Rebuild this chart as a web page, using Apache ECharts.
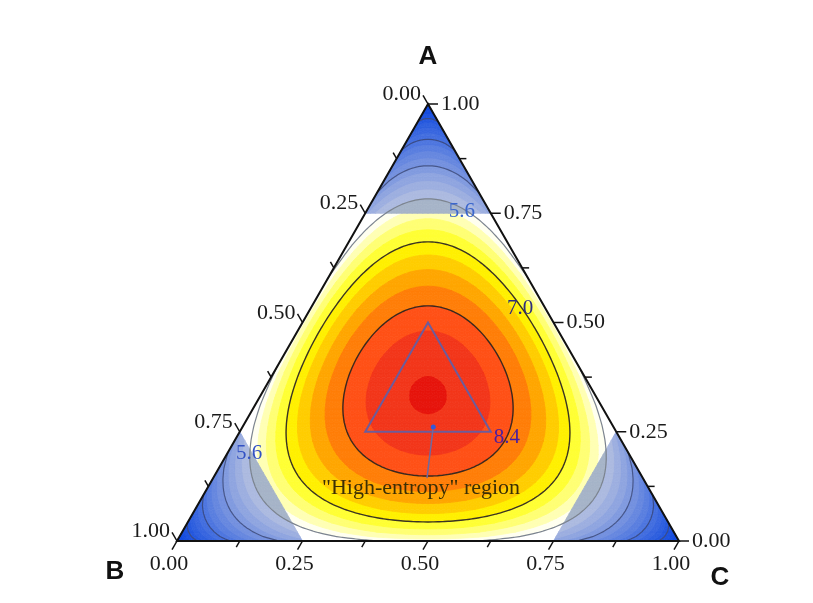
<!DOCTYPE html>
<html>
<head>
<meta charset="utf-8">
<script src="https://cdn.jsdelivr.net/npm/echarts@6.0.0/dist/echarts.min.js"></script>
<style>html,body{margin:0;padding:0;background:#fff}#chart{width:813px;height:603px}</style>
</head>
<body>
<div id="chart"></div>
<script>
// ---------------- data ----------------
const componentNames = ['A', 'B', 'C'];
const tickValues = [0, 0.25, 0.5, 0.75, 1];
const tickLabels = ['0.00', '0.25', '0.50', '0.75', '1.00'];
const minorTickValues = [0.125, 0.375, 0.625, 0.875];
// ideal configurational entropy field  dS = -R * sum(x ln x)
const gasConstant = 8.314;
const cornerLimit = 0.75;
// filled contour levels of the central (yellow-red) region
const fillLevels = [5.6, 5.95, 6.3, 6.65, 7.0, 7.35, 7.7, 8.05, 8.4, 8.75, 9.1];
const fillColors = ['#ffffff', '#fffff0', '#ffffb4', '#ffff74', '#ffff34', '#fff000', '#ffcd00', '#ffa600', '#ff7e08', '#ff5016', '#f2361a', '#e6140c'];
// filled contour levels of the three corner (blue) regions
const cornerLevels = [0.35, 0.7, 1.05, 1.4, 1.75, 2.1, 2.45, 2.8, 3.15, 3.5, 3.85, 4.2, 4.55, 4.9, 5.25, 5.6];
const cornerColors = ['#0c46de', '#1049de', '#164dde', '#1d52de', '#2558de', '#2e5fde', '#3866df', '#436edf', '#4e76df', '#5a7fdf', '#6788df', '#7491df', '#819bdf', '#8fa5e0', '#9dafe0', '#acbae0', '#a6b4c8'];
// contour lines
const contourLevels = [1.4, 2.8, 4.2, 5.6, 7.0, 8.4];
const contourColors = ['#3a4c88', '#3a4c88', '#46568a', '#7c8490', '#3a3424', '#3a2a1e'];
// contour labels (text, A, C fraction)
const contourLabelTexts = ['5.6', '5.6', '7.0', '8.4'];
const contourLabelA = [0.753, 0.201, 0.533, 0.238];
const contourLabelC = [0.191, 0.043, 0.417, 0.538];
const contourLabelColors = ['#3a66cc', '#3352c4', '#2c2c80', '#4a1ea0'];
// "high-entropy" region (A, B, C of its corners)
const regionCornerA = [0.5, 0.25, 0.25];
const regionCornerB = [0.25, 0.5, 0.25];
const regionCornerC = [0.25, 0.25, 0.5];
const regionPoint = [0.261, 0.359, 0.380];
const regionLabelAnchor = [0.144, 0.430, 0.426];
const regionLabelText = '"High-entropy" region';

// ---------------- geometry helpers ----------------
const SQ = Math.sqrt(3) / 2;
function toXY(a, b, c) { return [c + a / 2, a * SQ]; }
function mixingEntropy(a, b, c) {
  let s = 0;
  [a, b, c].forEach(x => { if (x > 1e-12) s -= x * Math.log(x); });
  return gasConstant * s;
}

// triangular mesh
const N = 96;
const lim = Math.round(N * cornerLimit);
const vid = (i, j) => i * (N + 1) + j;
const V = [];
for (let i = 0; i <= N; i++) {
  for (let j = 0; j <= N - i; j++) {
    const a = i / N, c = j / N, b = Math.max(0, 1 - a - c);
    const p = toXY(a, b, c);
    V[vid(i, j)] = { x: p[0], y: p[1], s: mixingEntropy(a, b, c), i: i, j: j, k: N - i - j };
  }
}
const tris = [];
for (let i = 0; i < N; i++) {
  for (let j = 0; i + j <= N - 1; j++) {
    tris.push([vid(i, j), vid(i, j + 1), vid(i + 1, j)]);
    if (i + j <= N - 2) tris.push([vid(i + 1, j), vid(i, j + 1), vid(i + 1, j + 1)]);
  }
}

function clipPoly(poly, level, keepAbove) {
  const out = [];
  const n = poly.length;
  for (let m = 0; m < n; m++) {
    const P = poly[m], Q = poly[(m + 1) % n];
    const pin = keepAbove ? P[2] >= level : P[2] < level;
    const qin = keepAbove ? Q[2] >= level : Q[2] < level;
    if (pin) out.push(P);
    if (pin !== qin) {
      const t = (level - P[2]) / (Q[2] - P[2]);
      out.push([P[0] + t * (Q[0] - P[0]), P[1] + t * (Q[1] - P[1]), level]);
    }
  }
  return out;
}
function bandIndex(levels, s) { let k = 0; while (k < levels.length && s >= levels[k]) k++; return k; }

const bandSets = [
  { levels: fillLevels, colors: fillColors, polys: fillColors.map(() => []) },
  { levels: cornerLevels, colors: cornerColors, polys: cornerColors.map(() => []) }
];
tris.forEach(tri => {
  const vs = tri.map(id => V[id]);
  const isCorner = Math.min(vs[0].i, vs[1].i, vs[2].i) >= lim ||
                   Math.min(vs[0].j, vs[1].j, vs[2].j) >= lim ||
                   Math.min(vs[0].k, vs[1].k, vs[2].k) >= lim;
  const set = bandSets[isCorner ? 1 : 0];
  const bi = vs.map(v => bandIndex(set.levels, v.s));
  const lo = Math.min(...bi), hi = Math.max(...bi);
  const poly = vs.map(v => [v.x, v.y, v.s]);
  if (lo === hi) { set.polys[lo].push(poly); return; }
  for (let b = lo; b <= hi; b++) {
    let p = poly;
    if (b > 0) p = clipPoly(p, set.levels[b - 1], true);
    if (p.length >= 3 && b < set.levels.length) p = clipPoly(p, set.levels[b], false);
    if (p.length >= 3) set.polys[b].push(p);
  }
});
const fieldItems = [];
bandSets.forEach((set, si) => set.polys.forEach((pl, bi) => { if (pl.length) fieldItems.push([0.5, 0.3, si, bi]); }));

// contour lines (marching triangles, chained into polylines)
const contourLines = contourLevels.map(L => {
  const pts = new Map();
  const segs = [];
  const edgePoint = (p, q) => {
    const lo = Math.min(p, q), hi = Math.max(p, q);
    const key = lo * 100000 + hi;
    if (!pts.has(key)) {
      const P = V[lo], Q = V[hi];
      const t = (L - P.s) / (Q.s - P.s);
      pts.set(key, [P.x + t * (Q.x - P.x), P.y + t * (Q.y - P.y)]);
    }
    return key;
  };
  tris.forEach(tri => {
    const ks = [];
    for (let e = 0; e < 3; e++) {
      const p = tri[e], q = tri[(e + 1) % 3];
      if ((V[p].s >= L) !== (V[q].s >= L)) ks.push(edgePoint(p, q));
    }
    if (ks.length === 2) segs.push(ks);
  });
  const adj = new Map();
  segs.forEach((s, idx) => s.forEach(k => { if (!adj.has(k)) adj.set(k, []); adj.get(k).push(idx); }));
  const used = new Array(segs.length).fill(false);
  const lines = [];
  for (let s0 = 0; s0 < segs.length; s0++) {
    if (used[s0]) continue;
    used[s0] = true;
    let line = [segs[s0][0], segs[s0][1]];
    for (let dir = 0; dir < 2; dir++) {
      while (true) {
        const end = line[line.length - 1];
        const cand = (adj.get(end) || []).find(x => !used[x]);
        if (cand === undefined) break;
        used[cand] = true;
        const sg = segs[cand];
        line.push(sg[0] === end ? sg[1] : sg[0]);
      }
      line.reverse();
    }
    lines.push(line.map(k => pts.get(k)));
  }
  return lines;
});
const contourItems = contourLevels.map((L, li) => [0.5, 0.3, li]);

// axes items: [x, y, axis, value, major, labelIndex]
const axisItems = [];
function axisPoint(axis, v) {
  if (axis === 0) return toXY(v, 0, 1 - v);      // A : right side
  if (axis === 1) return toXY(1 - v, v, 0);      // B : left side
  return toXY(0, 1 - v, v);                      // C : bottom
}
[0, 1, 2].forEach(ax => {
  tickValues.forEach((v, ti) => { const p = axisPoint(ax, v); axisItems.push([p[0], p[1], ax, v, 1, ti]); });
  minorTickValues.forEach(v => { const p = axisPoint(ax, v); axisItems.push([p[0], p[1], ax, v, 0, -1]); });
});

const LABEL_FONT = '22px "Liberation Serif", "Times New Roman", serif';

const chart = echarts.init(document.getElementById('chart'));
const option = {
  animation: false,
  backgroundColor: '#ffffff',
  grid: { left: 177, top: 104, width: 502, height: 437, show: false },
  xAxis: { type: 'value', min: 0, max: 1, show: false },
  yAxis: { type: 'value', min: 0, max: SQ, show: false },
  series: [
    {
      type: 'custom', name: 'field', silent: true, clip: false, z: 1,
      data: fieldItems,
      renderItem: function (params, api) {
        const set = bandSets[api.value(2)];
        const bi = api.value(3);
        const col = set.colors[bi];
        return {
          type: 'group',
          children: set.polys[bi].map(p => ({
            type: 'polygon',
            shape: { points: p.map(pt => api.coord([pt[0], pt[1]])) },
            style: { fill: col, stroke: col, lineWidth: 0.8 }
          }))
        };
      }
    },
    {
      type: 'custom', name: 'contours', silent: true, clip: false, z: 2,
      data: contourItems,
      renderItem: function (params, api) {
        const li = api.value(2);
        return {
          type: 'group',
          children: contourLines[li].map(line => ({
            type: 'polyline',
            shape: { points: line.map(pt => api.coord(pt)) },
            style: { stroke: contourColors[li], lineWidth: li >= 4 ? 1.4 : 1.2, fill: null, lineJoin: 'round' }
          }))
        };
      }
    },
    {
      type: 'custom', name: 'frame', silent: true, clip: false, z: 3,
      data: [[0.5, 0.3]],
      renderItem: function (params, api) {
        const A = api.coord(toXY(1, 0, 0)), B = api.coord(toXY(0, 1, 0)), C = api.coord(toXY(0, 0, 1));
        const r = [0, 1, 2].map(m => api.coord(toXY(regionCornerA[m], regionCornerB[m], regionCornerC[m])));
        const dot = api.coord(toXY(regionPoint[0], regionPoint[1], regionPoint[2]));
        const anc = api.coord(toXY(regionLabelAnchor[0], regionLabelAnchor[1], regionLabelAnchor[2]));
        return {
          type: 'group',
          children: [
            { type: 'polygon', shape: { points: r }, style: { fill: null, stroke: '#6c5c9c', lineWidth: 2 } },
            { type: 'line', shape: { x1: dot[0], y1: dot[1], x2: anc[0], y2: anc[1] }, style: { stroke: '#6e6aa0', lineWidth: 1.5 } },
            { type: 'circle', shape: { cx: dot[0], cy: dot[1], r: 2.5 }, style: { fill: '#3458d8' } },
            { type: 'text', x: anc[0] - 6, y: anc[1] + 10, style: { text: regionLabelText, font: LABEL_FONT, fill: '#3b2f05', align: 'center', textAlign: 'center', verticalAlign: 'middle', textVerticalAlign: 'middle' } },
            { type: 'polygon', shape: { points: [A, B, C] }, style: { fill: null, stroke: '#111111', lineWidth: 2, lineJoin: 'miter' } }
          ].concat(contourLabelTexts.map((t, m) => {
            const a = contourLabelA[m], c = contourLabelC[m];
            const p = api.coord(toXY(a, 1 - a - c, c));
            return { type: 'text', x: p[0], y: p[1], style: { text: t, font: '21px "Liberation Serif", serif', fill: contourLabelColors[m], align: 'center', textAlign: 'center', verticalAlign: 'middle', textVerticalAlign: 'middle' } };
          }))
        };
      }
    },
    {
      type: 'custom', name: 'axes', silent: true, clip: false, z: 4,
      data: axisItems,
      renderItem: function (params, api) {
        const ax = api.value(2), major = api.value(4), li = api.value(5);
        const p = api.coord([api.value(0), api.value(1)]);
        const A = api.coord(toXY(1, 0, 0)), B = api.coord(toXY(0, 1, 0)), C = api.coord(toXY(0, 0, 1));
        let d;
        if (ax === 0) d = [1, 0];
        else if (ax === 1) { const dx = A[0] - C[0], dy = A[1] - C[1], n = Math.hypot(dx, dy); d = [dx / n, dy / n]; }
        else { const dx = B[0] - A[0], dy = B[1] - A[1], n = Math.hypot(dx, dy); d = [dx / n, dy / n]; }
        const len = major ? 10 : 7;
        const e = [p[0] + d[0] * len, p[1] + d[1] * len];
        const children = [{ type: 'line', shape: { x1: p[0], y1: p[1], x2: e[0], y2: e[1] }, style: { stroke: '#111111', lineWidth: 1.5 } }];
        if (major) {
          let tx, ty, al;
          if (ax === 0) { tx = e[0] + 3; ty = e[1]; al = 'left'; }
          else if (ax === 1) { tx = e[0] - 2; ty = e[1] - 1; al = 'right'; }
          else { tx = e[0] - 3; ty = e[1] + 15; al = 'center'; }
          children.push({ type: 'text', x: tx, y: ty, style: { text: tickLabels[li], font: LABEL_FONT, fill: '#1a1a1a', align: al, textAlign: al, verticalAlign: 'middle', textVerticalAlign: 'middle' } });
          if (api.value(3) === 1) {
            // component name at the vertex of this axis
            let nx, ny;
            if (ax === 0) { nx = A[0]; ny = A[1] - 47; }
            else if (ax === 1) { nx = B[0] - 62; ny = B[1] + 31; }
            else { nx = C[0] + 41; ny = C[1] + 37; }
            children.push({ type: 'text', x: nx, y: ny, style: { text: componentNames[ax], font: 'bold 26px "Liberation Sans", Arial, sans-serif', fill: '#111111', align: 'center', textAlign: 'center', verticalAlign: 'middle', textVerticalAlign: 'middle' } });
          }
        }
        return { type: 'group', children: children };
      }
    }
  ]
};
chart.setOption(option);
</script>
</body>
</html>
